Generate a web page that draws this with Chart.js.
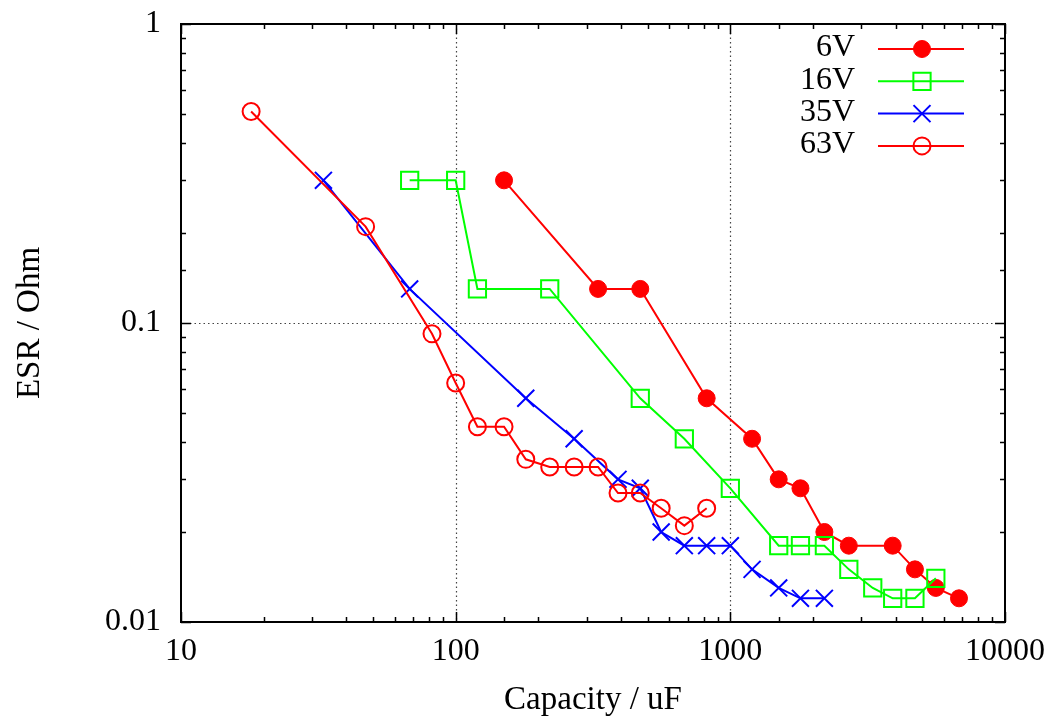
<!DOCTYPE html>
<html>
<head>
<meta charset="utf-8">
<script src="https://cdn.jsdelivr.net/npm/chart.js@4/dist/chart.umd.min.js"></script>
<style>
  html, body { margin: 0; padding: 0; background: #fff; }
  #wrap { width: 1060px; height: 724px; position: relative; }
</style>
</head>
<body>
<div id="wrap"><canvas id="esrChart"></canvas></div>
<script>
// ESR vs capacity
const cap6V  = [150, 330, 470, 820, 1200, 1500, 1800, 2200, 2700, 3900, 4700, 5600, 6800];
const esr6V  = [0.3, 0.13, 0.13, 0.056, 0.041, 0.030, 0.028, 0.020, 0.018, 0.018, 0.015, 0.013, 0.012];

const cap16V = [68, 100, 120, 220, 470, 680, 1000, 1500, 1800, 2200, 2700, 3300, 3900, 4700, 5600];
const esr16V = [0.3, 0.3, 0.13, 0.13, 0.056, 0.041, 0.028, 0.018, 0.018, 0.018, 0.015, 0.013, 0.012, 0.012, 0.014];

const cap35V = [33, 68, 180, 270, 390, 470, 560, 680, 820, 1000, 1200, 1500, 1800, 2200];
const esr35V = [0.3, 0.13, 0.056, 0.041, 0.030, 0.028, 0.020, 0.018, 0.018, 0.018, 0.015, 0.013, 0.012, 0.012];

const cap63V = [18, 47, 82, 100, 120, 150, 180, 220, 270, 330, 390, 470, 560, 680, 820];
const esr63V = [0.51, 0.21, 0.092, 0.063, 0.045, 0.045, 0.035, 0.033, 0.033, 0.033, 0.027, 0.027, 0.024, 0.021, 0.024];

const xTickLabels = ['10', '100', '1000', '10000'];
const yTickLabels = ['0.01', '0.1', '1'];

const pts = (xs, ys) => xs.map((x, i) => ({ x: x, y: ys[i] }));
const isDecade = v => Math.abs(Math.log10(v) - Math.round(Math.log10(v))) < 1e-6;
const decadeLabel = (v, labels) => {
    const s = labels.find(l => Math.abs(Number(l) - v) < v * 1e-6);
    return s !== undefined ? s : '';
};

Chart.defaults.font.family = "'Liberation Serif', 'Times New Roman', serif";
Chart.defaults.font.size = 32;
Chart.defaults.color = '#000';

// gnuplot style: dotted grid at decades, box with inward ticks
const frame = {
    id: 'frame',
    beforeDatasetsDraw(chart) {
        const { ctx, chartArea: a, scales } = chart;
        ctx.save();

        ctx.strokeStyle = '#444';
        ctx.lineWidth = 1.2;
        ctx.setLineDash([1.5, 3]);
        ctx.beginPath();
        scales.x.ticks.forEach(t => {
            if (!isDecade(t.value)) return;
            const px = Math.round(scales.x.getPixelForValue(t.value)) + 0.5;
            if (px < a.left + 3 || px > a.right - 3) return;
            ctx.moveTo(px, a.top); ctx.lineTo(px, a.bottom);
        });
        scales.y.ticks.forEach(t => {
            if (!isDecade(t.value)) return;
            const py = Math.round(scales.y.getPixelForValue(t.value)) + 0.5;
            if (py < a.top + 3 || py > a.bottom - 3) return;
            ctx.moveTo(a.left, py); ctx.lineTo(a.right, py);
        });
        ctx.stroke();
        ctx.setLineDash([]);

        ctx.strokeStyle = '#000';
        ctx.lineWidth = 1.5;
        ctx.beginPath();
        scales.x.ticks.forEach(t => {
            const px = Math.round(scales.x.getPixelForValue(t.value)) + 0.5;
            const len = isDecade(t.value) ? 10 : 5;
            ctx.moveTo(px, a.bottom); ctx.lineTo(px, a.bottom - len);
            ctx.moveTo(px, a.top); ctx.lineTo(px, a.top + len);
        });
        scales.y.ticks.forEach(t => {
            const py = Math.round(scales.y.getPixelForValue(t.value)) + 0.5;
            const len = isDecade(t.value) ? 10 : 5;
            ctx.moveTo(a.left, py); ctx.lineTo(a.left + len, py);
            ctx.moveTo(a.right, py); ctx.lineTo(a.right - len, py);
        });
        ctx.stroke();
        ctx.lineWidth = 2;
        ctx.strokeRect(a.left, a.top, a.right - a.left, a.bottom - a.top);
        ctx.restore();
    }
};

// key in the top right, text left of the sample like gnuplot
const key = {
    id: 'key',
    afterDraw(chart) {
        const { ctx, chartArea: a } = chart;
        ctx.save();
        chart.data.datasets.forEach((ds, i) => {
            const y = a.top + 25 + i * 32.3;
            ctx.fillStyle = '#000';
            ctx.font = "32px 'Liberation Serif', serif";
            ctx.textAlign = 'right';
            ctx.textBaseline = 'middle';
            ctx.fillText(ds.label, a.right - 150, y - 1);
            ctx.strokeStyle = ds.borderColor;
            ctx.lineWidth = ds.borderWidth;
            ctx.beginPath();
            ctx.moveTo(a.right - 127, y);
            ctx.lineTo(a.right - 41, y);
            ctx.stroke();
            ctx.fillStyle = ds.pointBackgroundColor;
            ctx.strokeStyle = ds.pointBorderColor;
            ctx.lineWidth = ds.pointBorderWidth;
            Chart.helpers.drawPoint(ctx, {
                pointStyle: ds.pointStyle, radius: ds.pointRadius,
                borderWidth: ds.pointBorderWidth, rotation: 0
            }, a.right - 83, y);
        });
        ctx.restore();
    }
};

const ctx = document.getElementById('esrChart').getContext('2d');
new Chart(ctx, {
    type: 'scatter',
    data: {
        datasets: [{
            label: '6V',
            data: pts(cap6V, esr6V),
            showLine: true,
            borderColor: '#ff0000',
            borderWidth: 2,
            pointStyle: 'circle',
            pointRadius: 8.5,
            pointBackgroundColor: '#ff0000',
            pointBorderColor: '#ff0000',
            pointBorderWidth: 1,
            order: 4
        }, {
            label: '16V',
            data: pts(cap16V, esr16V),
            showLine: true,
            borderColor: '#00ff00',
            borderWidth: 2,
            pointStyle: 'rect',
            pointRadius: 12.2,
            pointBackgroundColor: 'rgba(0,0,0,0)',
            pointBorderColor: '#00ff00',
            pointBorderWidth: 2,
            order: 3
        }, {
            label: '35V',
            data: pts(cap35V, esr35V),
            showLine: true,
            borderColor: '#0000ff',
            borderWidth: 2,
            pointStyle: 'crossRot',
            pointRadius: 12,
            pointBackgroundColor: 'rgba(0,0,0,0)',
            pointBorderColor: '#0000ff',
            pointBorderWidth: 2,
            order: 2
        }, {
            label: '63V',
            data: pts(cap63V, esr63V),
            showLine: true,
            borderColor: '#ff0000',
            borderWidth: 2,
            pointStyle: 'circle',
            pointRadius: 8.5,
            pointBackgroundColor: 'rgba(0,0,0,0)',
            pointBorderColor: '#ff0000',
            pointBorderWidth: 2,
            order: 1
        }]
    },
    options: {
        responsive: true,
        maintainAspectRatio: false,
        animation: false,
        layout: { padding: { left: 0, right: 55, top: 24, bottom: 0 } },
        plugins: { legend: { display: false }, tooltip: { enabled: false } },
        elements: { line: { tension: 0 } },
        scales: {
            x: {
                type: 'logarithmic',
                min: 10,
                max: 10000,
                afterFit: s => { s.height = 102; s.paddingLeft = 0; s.paddingRight = 0; },
                border: { display: false },
                grid: { display: false, drawTicks: false },
                ticks: {
                    autoSkip: false,
                    maxRotation: 0,
                    padding: 10,
                    callback: v => decadeLabel(v, xTickLabels)
                },
                title: { display: true, text: 'Capacity / uF', font: { size: 33 }, padding: { top: 0, bottom: 4 } }
            },
            y: {
                type: 'logarithmic',
                min: 0.01,
                max: 1,
                afterFit: s => { s.width = 181; s.paddingTop = 0; s.paddingBottom = 0; },
                border: { display: false },
                grid: { display: false, drawTicks: false },
                ticks: {
                    autoSkip: false,
                    padding: 20,
                    callback: v => decadeLabel(v, yTickLabels)
                },
                title: { display: true, text: 'ESR / Ohm', font: { size: 33 }, padding: { top: 11, bottom: 0 } }
            }
        }
    },
    plugins: [frame, key]
});
</script>
</body>
</html>
